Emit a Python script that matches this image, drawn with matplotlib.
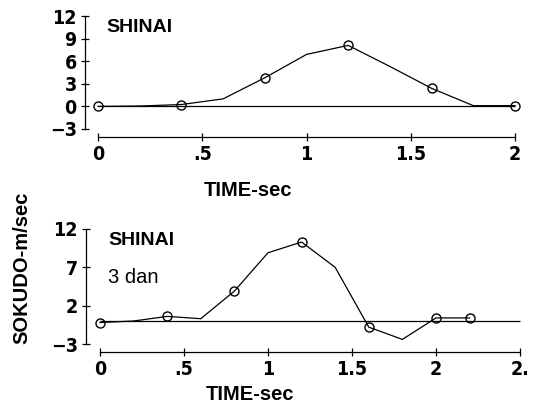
import matplotlib
matplotlib.use('Agg')
import matplotlib.pyplot as plt

# top panel: SHINAI
t_top = [0, 0.2, 0.4, 0.6, 0.8, 1.0, 1.2, 1.4, 1.6, 1.8, 2.0]
v_top = [0, 0.05, 0.25, 1.0, 3.8, 6.9, 8.1, 5.3, 2.4, 0.1, 0.1]
mark_top = [0, 2, 4, 6, 8, 10]          # indices that carry a circle
xticks_top = [0, 0.5, 1, 1.5, 2]
xlabels_top = ['0', '.5', '1', '1.5', '2']
yticks_top = [-3, 0, 3, 6, 9, 12]

# bottom panel: SHINAI 3 dan
t_bot = [0, 0.2, 0.4, 0.6, 0.8, 1.0, 1.2, 1.4, 1.6, 1.8, 2.0, 2.2]
v_bot = [-0.2, 0.0, 0.6, 0.3, 3.9, 8.9, 10.3, 7.0, -0.8, -2.4, 0.4, 0.4]
mark_bot = [0, 2, 4, 6, 8, 10, 11]
xticks_bot = [0, 0.5, 1, 1.5, 2, 2.5]
xlabels_bot = ['0', '.5', '1', '1.5', '2', '2.']
yticks_bot = [-3, 2, 7, 12]

W, H = 533, 412
tickfont = dict(family=['DejaVu Sans'], stretch='condensed', weight='bold', size=14)
labfont = dict(family=['Liberation Sans', 'DejaVu Sans'], weight='bold', size=14.5)

fig = plt.figure(figsize=(W / 100, H / 100), dpi=100)


def panel(rect, t, v, marks, xt, xl, yt, xlim, zero_end):
    ax = fig.add_axes(rect)
    ax.plot(t, v, color='black', lw=0.9)
    ax.plot([t[i] for i in marks], [v[i] for i in marks], 'o', mfc='none',
            mec='black', ms=6.5, mew=1.0)
    ax.hlines(0, t[0], zero_end, color='black', lw=0.9)
    ax.set_xlim(*xlim)
    ax.set_ylim(yt[0], yt[-1])
    for s in ['top', 'right']:
        ax.spines[s].set_visible(False)
    ax.spines['bottom'].set_position(('outward', 5.8))
    ax.spines['bottom'].set_bounds(xt[0], xt[-1])
    ax.spines['left'].set_bounds(yt[0], yt[-1])
    for s in ['bottom', 'left']:
        ax.spines[s].set_linewidth(0.9)
    ax.set_xticks(xt)
    ax.set_xticklabels(xl, fontdict=tickfont)
    ax.set_yticks(yt)
    ax.set_yticklabels([str(y) if y >= 0 else '\u22123' for y in yt], fontdict=tickfont)
    ax.tick_params(direction='inout', length=6, width=0.9, pad=3)
    ax.patch.set_alpha(0)
    return ax


top = panel([85 / W, 1 - 129 / H, 435 / W, 113 / H], t_top, v_top, mark_top,
            xticks_top, xlabels_top, yticks_top, (-0.0624, 2.024), 2.0)
bot = panel([86 / W, 1 - 344 / H, 439 / W, 115 / H], t_bot, v_bot, mark_bot,
            xticks_bot, xlabels_bot, yticks_bot, (-0.0833, 2.53), 2.5)

top.text(0.05, 0.9, 'SHINAI', transform=top.transAxes, va='center',
         family=['Liberation Sans', 'DejaVu Sans'], weight='bold', size=14)
bot.text(0.05, 0.9, 'SHINAI', transform=bot.transAxes, va='center',
         family=['Liberation Sans', 'DejaVu Sans'], weight='bold', size=14)
bot.text(0.05, 0.58, '3 dan', transform=bot.transAxes, va='center',
         family=['Liberation Sans', 'DejaVu Sans'], size=14.5)

fig.text(248 / W, 1 - 190 / H, 'TIME-sec', ha='center', va='center', **labfont)
fig.text(250 / W, 1 - 394 / H, 'TIME-sec', ha='center', va='center', **labfont)
fig.text(22 / W, 1 - 268 / H, 'SOKUDO-m/sec', ha='center', va='center', rotation=90, **labfont)

fig.savefig('out.png', dpi=100)
